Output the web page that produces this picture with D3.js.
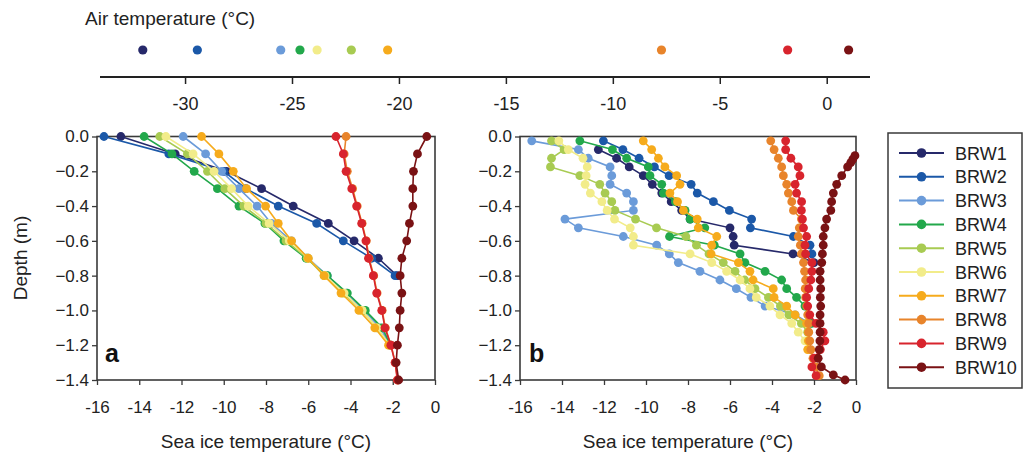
<!DOCTYPE html>
<html><head><meta charset="utf-8">
<script src="https://cdn.jsdelivr.net/npm/d3@7"></script>
<style>
html,body{margin:0;padding:0;background:#fff;}
svg{display:block;}
</style></head>
<body>
<svg id="chart" width="1025" height="457"></svg>
<script>
// ---------- DATA ----------
const series = ["BRW1","BRW2","BRW3","BRW4","BRW5","BRW6","BRW7","BRW8","BRW9","BRW10"];
const colors = ["#26296a","#1b58a8","#6b9bd9","#22a84b","#a8cb52","#f2ec8a","#f6ab1c","#e8842b","#d8242d","#7a1214"];
const airTemp = [-32.0, -29.45, -25.55, -24.65, -22.25, -23.85, -20.55, -7.75, -1.85, 1.0];
const airTicks = [-30, -25, -20, -15, -10, -5, 0];
const iceTicks = [-16, -14, -12, -10, -8, -6, -4, -2, 0];
const depthTicks = [0, -0.2, -0.4, -0.6, -0.8, -1.0, -1.2, -1.4];

// Panel a: depths every 0.1 m
const depthA = [0,-0.1,-0.2,-0.3,-0.4,-0.5,-0.6,-0.7,-0.8,-0.9,-1.0,-1.1,-1.2,-1.3,-1.4];
const a_BRW1  = [-14.87,-12.3,-9.87,-8.21,-6.71,-5.05,-3.83,-2.68,-1.8];
const a_BRW2  = [-15.67,-12.6,-10.0,-8.95,-7.42,-5.6,-4.34,-3.0,-1.89];
const a_BRW3  = [-11.92,-10.86,-10.1,-9.28,-8.42,-7.75,-6.8,-6.0,-5.1,-4.2,-3.35,-2.6,-2.1];
const a_BRW4  = [-13.77,-12.45,-11.4,-10.3,-9.28,-8.05,-7.15,-6.1,-5.1,-4.15,-3.3,-2.5,-2.1];
const a_BRW5  = [-13.03,-11.72,-10.77,-9.95,-9.05,-8.0,-7.05,-6.05,-5.25,-4.35,-3.45,-2.75,-2.15];
const a_BRW6  = [-12.74,-11.45,-10.46,-9.63,-8.84,-7.85,-6.9,-6.0,-5.2,-4.3,-3.45,-2.75,-2.15];
const a_BRW7  = [-11.05,-10.23,-9.55,-8.92,-8.02,-7.42,-6.79,-6.0,-5.25,-4.45,-3.6,-2.85,-2.2];
const a_BRW8  = [-4.21,-4.3,-4.15,-3.9,-3.68,-3.45,-3.25,-3.12,-2.9,-2.74,-2.5,-2.35,-2.08,-1.88,-1.78];
const a_BRW9  = [-4.69,-4.34,-4.21,-3.94,-3.71,-3.47,-3.27,-3.15,-2.92,-2.76,-2.52,-2.37,-2.09,-1.89,-1.78];
const a_BRW10 = [-0.39,-0.83,-1.02,-1.05,-1.05,-1.21,-1.34,-1.57,-1.65,-1.57,-1.65,-1.69,-1.78,-1.84,-1.72];

// Panel b: depths every 0.05 m
const depthB = [-0.025,-0.075,-0.125,-0.175,-0.225,-0.275,-0.325,-0.375,-0.425,-0.475,-0.525,-0.575,-0.625,-0.675,
                -0.725,-0.775,-0.825,-0.875,-0.925,-0.975,-1.025,-1.075,-1.125,-1.175,-1.225,-1.275,-1.325,-1.375];
const b_BRW1 = [null,-12.27,-11.4,-10.8,-10.13,-9.7,-9.25,-8.8,-8.3,-7.9,-6.0,-5.85,-5.8,-3.0,-2.0];
const b_BRW2 = [-12.03,-11.1,-10.33,-9.6,-8.9,-7.85,-7.56,-6.79,-6.03,-4.97,-5.03,-2.98,-2.19,-2.1];
const b_BRW3 = [-15.44,-13.22,-12.75,-11.71,-11.63,-11.71,-10.92,-10.6,-10.6,-13.86,-13.22,-11.08,-9.49,-8.89,-8.46,-7.43,-6.48,-5.7,-5.0,-4.33,-2.9,-2.2];
const b_BRW4 = [-13.15,-11.6,-10.92,-9.89,-9.81,-9.25,-9.17,-8.6,-8.14,-7.9,-7.2,-8.88,-6.75,-5.52,-5.29,-4.33,-3.54,-3.3,-2.83,-2.43,-2.27,-2.11];
const b_BRW5 = [-14.5,-13.9,-14.5,-14.55,-13.15,-12.2,-11.95,-11.63,-11.48,-10.5,-9.5,-8.1,-7.6,-7.0,-6.32,-5.76,-5.3,-4.81,-4.17,-3.6,-3.2,-2.6,-2.3];
const b_BRW6 = [-14.15,-13.7,-13.0,-12.8,-12.85,-12.9,-12.65,-12.1,-11.85,-11.5,-10.75,-10.6,-10.6,-7.9,-6.87,-6.16,-5.52,-5.05,-4.75,-4.1,-3.62,-3.06,-2.75,-2.43];
const b_BRW7 = [-10.13,-9.73,-9.41,-9.1,-8.54,-8.38,-8.86,-8.5,-8.22,-7.56,-7.51,-6.63,-6.87,-6.9,-5.6,-5.05,-4.9,-3.94,-3.9,-3.3,-2.9,-2.35,-2.27,-2.27,-2.3];
const b_BRW8 = [-4.06,-3.9,-3.7,-3.54,-3.46,-3.3,-3.22,-3.06,-2.98,-2.6,-2.7,-2.75,-2.65,-2.6,-2.5,-2.45,-2.4,-2.42,-2.4,-2.35,-2.3,-2.25,-2.25,-2.2,-2.15,-2.05,-1.9,-1.75];
const b_BRW9 = [-3.35,-3.35,-3.1,-2.75,-2.67,-2.9,-2.83,-2.59,-2.6,-2.55,-2.5,-2.35,-2.43,-2.4,-2.1,-2.1,-2.15,-2.25,-2.35,-2.3,-2.2,-1.9,-1.56,-1.48,-1.7,-2.0,-2.1,-1.9];
const depthB10 = [-0.11,-0.13,-0.15,-0.175,-0.225,-0.275,-0.325,-0.375,-0.425,-0.475,-0.525,-0.575,-0.625,-0.675,-0.725,
                  -0.775,-0.825,-0.875,-0.925,-0.975,-1.025,-1.075,-1.125,-1.175,-1.225,-1.275,-1.325,-1.37,-1.4];
const b_BRW10 = [-0.05,-0.15,-0.25,-0.4,-0.68,-0.92,-1.08,-1.16,-1.2,-1.4,-1.48,-1.56,-1.56,-1.6,-1.63,
                 -1.71,-1.71,-1.68,-1.7,-1.68,-1.71,-1.71,-1.71,-1.72,-1.75,-1.8,-1.65,-1.08,-0.52];

const panelA = [a_BRW1,a_BRW2,a_BRW3,a_BRW4,a_BRW5,a_BRW6,a_BRW7,a_BRW8,a_BRW9,a_BRW10].map(t => ({depth: depthA, temp: t}));
const panelB = [b_BRW1,b_BRW2,b_BRW3,b_BRW4,b_BRW5,b_BRW6,b_BRW7,b_BRW8,b_BRW9].map(t => ({depth: depthB, temp: t}));
panelB.push({depth: depthB10, temp: b_BRW10});

// ---------- DRAW ----------
const FONT = '"Liberation Sans",Arial,sans-serif';
const AXIS = "#3a3a3a";
const svg = d3.select("#chart").style("font-family", FONT);

// top air temperature axis
const xTop = d3.scaleLinear().domain([-34, 2]).range([100, 870]);
svg.append("text").attr("x", 85).attr("y", 25).attr("font-size", 19).attr("fill", "#222").text("Air temperature (°C)");
const topAxis = svg.append("g").attr("transform", "translate(0,77)");
topAxis.append("line").attr("x1", xTop.range()[0]).attr("x2", xTop.range()[1]).attr("stroke", "#222").attr("stroke-width", 2);
topAxis.selectAll(".tk").data(airTicks).join("line")
  .attr("x1", d => xTop(d)).attr("x2", d => xTop(d)).attr("y1", 0).attr("y2", 7)
  .attr("stroke", "#222").attr("stroke-width", 1.5);
topAxis.selectAll(".tl").data(airTicks).join("text")
  .attr("x", d => xTop(d)).attr("y", 33).attr("text-anchor", "middle").attr("font-size", 18).attr("fill", "#222")
  .text(d => d);
svg.selectAll(".air").data(airTemp).join("circle")
  .attr("cx", d => xTop(d)).attr("cy", 50).attr("r", 4.6).attr("fill", (d, i) => colors[i]);

const yScale = d3.scaleLinear().domain([0, -1.4]).range([136.5, 380]);

function panel(x0, x1, data, label, labelX) {
  const x = d3.scaleLinear().domain([-16, 0]).range([x0, x1]);
  const g = svg.append("g");
  g.append("rect").attr("x", x0).attr("y", yScale(0)).attr("width", x1 - x0).attr("height", yScale(-1.4) - yScale(0))
    .attr("fill", "none").attr("stroke", AXIS).attr("stroke-width", 1.6);
  const ya = d3.axisLeft(yScale).tickValues(depthTicks).tickSize(5).tickSizeOuter(0);
  const yg = g.append("g").attr("transform", `translate(${x0},0)`).call(ya);
  yg.select(".domain").remove();
  yg.selectAll(".tick line").attr("stroke", AXIS).attr("stroke-width", 1.3);
  yg.selectAll(".tick text").attr("font-size", 17).attr("font-family", FONT).attr("fill", "#222").attr("x", -8)
    .text(d => d === 0 ? "0.0" : d3.format(".1f")(d));
  const xa = d3.axisBottom(x).tickValues(iceTicks).tickSize(5).tickSizeOuter(0);
  const xg = g.append("g").attr("transform", `translate(0,${yScale(-1.4)})`).call(xa);
  xg.select(".domain").remove();
  xg.selectAll(".tick line").attr("stroke", AXIS).attr("stroke-width", 1.3);
  xg.selectAll(".tick text").attr("font-size", 17).attr("font-family", FONT).attr("fill", "#222").attr("y", 21)
    .text(d => d === 0 ? "0" : "-" + Math.abs(d));
  g.append("text").attr("x", (x0 + x1) / 2).attr("y", 448).attr("text-anchor", "middle").attr("font-size", 19)
    .attr("fill", "#222").text("Sea ice temperature (°C)");
  const line = d3.line().x(p => x(p[0])).y(p => yScale(p[1]));
  data.forEach((s, i) => {
    const pts = s.temp.map((t, j) => [t, s.depth[j]]).filter(p => p[0] !== null && p[0] !== undefined);
    const sg = g.append("g");
    sg.append("path").attr("d", line(pts)).attr("fill", "none").attr("stroke", colors[i]).attr("stroke-width", 1.6);
    sg.selectAll("circle").data(pts).join("circle")
      .attr("cx", p => x(p[0])).attr("cy", p => yScale(p[1])).attr("r", 4.4).attr("fill", colors[i]);
  });
  g.append("text").attr("x", labelX).attr("y", 362).attr("font-size", 25).attr("font-weight", "bold")
    .attr("fill", "#111").text(label);
}
panel(97, 435, panelA, "a", 105);
panel(520, 856, panelB, "b", 529);

// y axis title
svg.append("text").attr("transform", "translate(27,258) rotate(-90)").attr("text-anchor", "middle")
  .attr("font-size", 19).attr("fill", "#222").text("Depth (m)");

// legend
const lg = svg.append("g");
lg.append("rect").attr("x", 888).attr("y", 133).attr("width", 134).attr("height", 255)
  .attr("fill", "none").attr("stroke", AXIS).attr("stroke-width", 1.5);
series.forEach((name, i) => {
  const yy = 153 + i * 23.8;
  lg.append("line").attr("x1", 899).attr("x2", 944).attr("y1", yy).attr("y2", yy).attr("stroke", colors[i]).attr("stroke-width", 2);
  lg.append("circle").attr("cx", 921.5).attr("cy", yy).attr("r", 4.8).attr("fill", colors[i]);
  lg.append("text").attr("x", 955).attr("y", yy + 6.5).attr("font-size", 18).attr("fill", "#222").text(name);
});
</script>
</body></html>
